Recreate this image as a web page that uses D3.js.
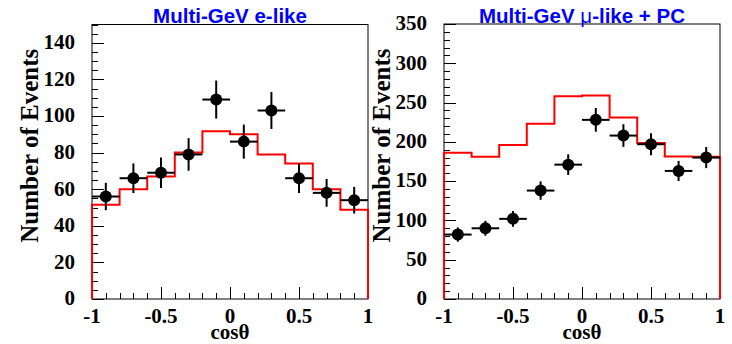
<!DOCTYPE html>
<html>
<head>
<meta charset="utf-8">
<script src="https://cdn.jsdelivr.net/npm/d3@7"></script>
<style>
  body { margin: 0; background: #fff; }
  svg { display: block; }
</style>
</head>
<body>
<svg id="chart" width="732" height="344"></svg>
<script>
// Bin edges and centres in cos(theta)
var binEdges = [-1, -0.8, -0.6, -0.4, -0.2, 0, 0.2, 0.4, 0.6, 0.8, 1];
var binCenters = [-0.9, -0.7, -0.5, -0.3, -0.1, 0.1, 0.3, 0.5, 0.7, 0.9];

// Multi-GeV e-like: data points, errors, MC expectation
var eLikeData = [56, 66, 69, 79, 109, 86, 103, 66, 58, 54];
var eLikeErr = [7.5, 8.1, 8.3, 8.9, 10.4, 9.3, 10.1, 8.1, 7.6, 7.3];
var eLikeMC = [51.5, 60, 67, 80, 91.6, 90, 79, 74, 60, 48.8];

// Multi-GeV mu-like + PC: data points, errors, MC expectation
var muLikeData = [82, 90, 102, 138, 171, 228, 208, 197, 163, 180];
var muLikeErr = [9.1, 9.5, 10.1, 11.7, 13.1, 15.1, 14.4, 14.0, 12.8, 13.4];
var muLikeMC = [186, 181, 196, 223, 258, 259, 231, 198.5, 181.5, 181];

// Tick labels
var xTickLabels = [-1, -0.5, 0, 0.5, 1];
var eLikeYTicks = [0, 20, 40, 60, 80, 100, 120, 140];
var muLikeYTicks = [0, 50, 100, 150, 200, 250, 300, 350];

var svg = d3.select("#chart");
svg.append("rect").attr("width", 732).attr("height", 344).attr("fill", "#fff");

var serif = "'Liberation Serif', 'Times New Roman', serif";
var sans = "'Liberation Sans', Arial, sans-serif";

// Draw one histogram panel
var drawPanel = function(p) {
    var g = svg.append("g");

    var x = d3.scaleLinear().domain([-1, 1]).range([p.left, p.right]);
    var y = d3.scaleLinear().domain([0, p.yMax]).range([p.bottom, p.top]);

    // Frame
    g.append("rect")
        .attr("x", p.left).attr("y", p.top)
        .attr("width", p.right - p.left).attr("height", p.bottom - p.top)
        .attr("fill", "none").attr("stroke", "#000").attr("stroke-width", 1);

    // Y ticks (inside, pointing right)
    var yMinor = d3.range(0, p.yMax + 0.001, p.yMinorStep);
    g.selectAll(".ytick")
        .data(yMinor)
        .join("line")
        .attr("x1", p.left).attr("x2", function(d) {
            return p.left + (p.yTicks.indexOf(d) >= 0 ? 12 : 6);
        })
        .attr("y1", function(d) { return Math.round(y(d)) + 0.5; })
        .attr("y2", function(d) { return Math.round(y(d)) + 0.5; })
        .attr("stroke", "#000").attr("stroke-width", 1);

    g.selectAll(".ylab")
        .data(p.yTicks)
        .join("text")
        .attr("x", p.left - 17)
        .attr("y", function(d) { return y(d); })
        .attr("dy", "0.3em")
        .attr("text-anchor", "end")
        .style("font-family", serif).style("font-weight", "bold").style("font-size", "21px")
        .text(function(d) { return d; });

    // X ticks (inside, pointing up)
    var xMinor = d3.range(-10, 11).map(function(i) { return i / 10; });
    g.selectAll(".xtick")
        .data(xMinor)
        .join("line")
        .attr("x1", function(d) { return Math.round(x(d)) + 0.5; })
        .attr("x2", function(d) { return Math.round(x(d)) + 0.5; })
        .attr("y1", p.bottom)
        .attr("y2", function(d) {
            return p.bottom - (xTickLabels.indexOf(d) >= 0 ? 12 : 6);
        })
        .attr("stroke", "#000").attr("stroke-width", 1);

    g.selectAll(".xlab")
        .data(xTickLabels)
        .join("text")
        .attr("x", function(d) { return x(d); })
        .attr("y", p.bottom + 24)
        .attr("text-anchor", "middle")
        .style("font-family", serif).style("font-weight", "bold").style("font-size", "21px")
        .text(function(d) { return d; });

    // MC histogram (red step line)
    var pts = [[binEdges[0], 0]];
    p.mc.forEach(function(v, i) {
        pts.push([binEdges[i], v]);
        pts.push([binEdges[i + 1], v]);
    });
    pts.push([binEdges[binEdges.length - 1], 0]);

    var line = d3.line()
        .x(function(d) { return x(d[0]); })
        .y(function(d) { return y(d[1]); });

    g.append("path")
        .attr("d", line(pts))
        .attr("fill", "none")
        .attr("stroke", "#ff0000")
        .attr("stroke-width", 2);

    // Data points with error bars
    var pg = g.selectAll(".pt")
        .data(p.data.map(function(v, i) {
            return {x: binCenters[i], v: v, e: p.err[i], x0: binEdges[i], x1: binEdges[i + 1]};
        }))
        .join("g");

    pg.append("line")
        .attr("x1", function(d) { return x(d.x0); })
        .attr("x2", function(d) { return x(d.x1); })
        .attr("y1", function(d) { return y(d.v); })
        .attr("y2", function(d) { return y(d.v); })
        .attr("stroke", "#000").attr("stroke-width", 2);

    pg.append("line")
        .attr("x1", function(d) { return x(d.x); })
        .attr("x2", function(d) { return x(d.x); })
        .attr("y1", function(d) { return y(d.v - d.e); })
        .attr("y2", function(d) { return y(d.v + d.e); })
        .attr("stroke", "#000").attr("stroke-width", 2);

    pg.append("circle")
        .attr("cx", function(d) { return x(d.x); })
        .attr("cy", function(d) { return y(d.v); })
        .attr("r", 6)
        .attr("fill", "#000");

    // Axis titles
    g.append("text")
        .attr("transform", "translate(" + (p.left - 54.5) + "," + ((p.top + p.bottom) / 2 - 16) + ") rotate(-90)")
        .attr("text-anchor", "middle")
        .style("font-family", serif).style("font-weight", "bold").style("font-size", "25px")
        .text("Number of Events");

    g.append("text")
        .attr("x", (p.left + p.right) / 2)
        .attr("y", 339)
        .attr("text-anchor", "middle")
        .style("font-family", serif).style("font-weight", "bold").style("font-size", "21px")
        .text("cosθ");

    // Panel title
    var t = g.append("text")
        .attr("x", (p.left + p.right) / 2)
        .attr("y", 23)
        .attr("text-anchor", "middle")
        .attr("fill", "#0000ff")
        .style("font-family", sans).style("font-weight", "bold").style("font-size", "20.5px");
    p.title.forEach(function(part) {
        t.append("tspan")
            .style("font-weight", part.w || "bold")
            .text(part.s);
    });
};

drawPanel({
    left: 92, right: 368, top: 24.5, bottom: 299,
    yMax: 150, yTicks: eLikeYTicks, yMinorStep: 5,
    data: eLikeData, err: eLikeErr, mc: eLikeMC,
    title: [{s: "Multi-GeV e-like"}]
});

drawPanel({
    left: 444, right: 720, top: 24, bottom: 299,
    yMax: 350, yTicks: muLikeYTicks, yMinorStep: 10,
    data: muLikeData, err: muLikeErr, mc: muLikeMC,
    title: [{s: "Multi-GeV "}, {s: "μ", w: "normal"}, {s: "-like + PC"}]
});
</script>
</body>
</html>
